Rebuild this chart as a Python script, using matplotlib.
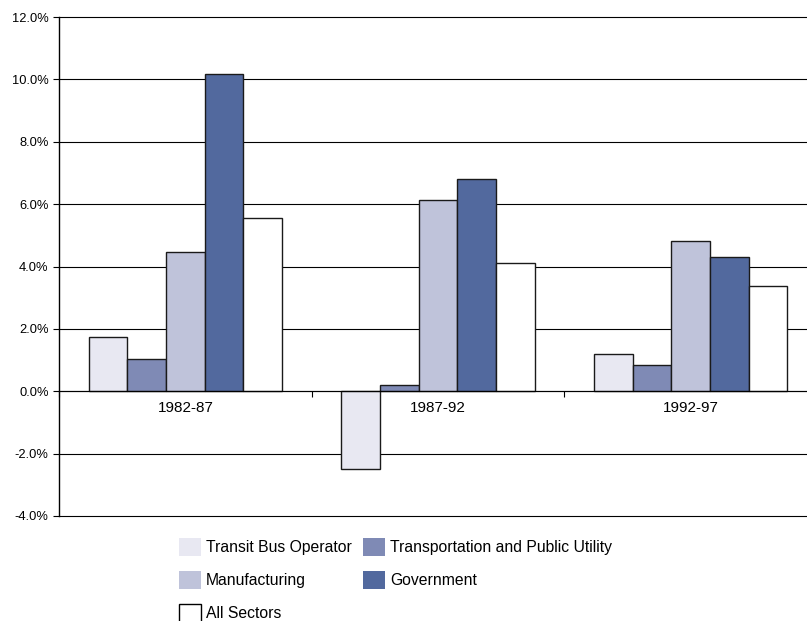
import matplotlib.pyplot as plt
import matplotlib.patches as mpatches
import numpy as np

plt.rcParams['font.family'] = ['Liberation Sans', 'DejaVu Sans']

# --- data (annual growth, %) ---
periods = ['1982-87', '1987-92', '1992-97']
series = ['Transit Bus Operator', 'Transportation and Public Utility',
          'Manufacturing', 'Government', 'All Sectors']
transit_bus = [1.75, -2.48, 1.21]
transport_util = [1.05, 0.20, 0.85]
manufacturing = [4.47, 6.14, 4.82]
government = [10.18, 6.82, 4.30]
all_sectors = [5.57, 4.10, 3.36]
colors = ['#E8E8F2', '#7F8AB5', '#BFC3DA', '#52699E', '#FFFFFF']

values = [transit_bus, transport_util, manufacturing, government, all_sectors]

fig = plt.figure(figsize=(8.07, 6.21), dpi=100)
ax = fig.add_axes([59 / 807, 1 - 516 / 621, 1 - 59 / 807, 499 / 621])

x = np.arange(len(periods))
w = 0.153
for i, (vals, c) in enumerate(zip(values, colors)):
    ax.bar(x + (i - 2) * w, vals, w, color=c, edgecolor='#1a1a1a',
           linewidth=1.0, zorder=3)

yt = np.arange(-4, 12.1, 2)
ax.set_ylim(-4, 12)
ax.set_yticks(yt)
ax.set_yticklabels([f'{v:.1f}%' for v in yt], fontsize=9.3)
ax.tick_params(axis='y', length=4, width=0.8)
# horizontal rules at every tick, including the -4% floor
for v in yt:
    ax.axhline(v, color='black', linewidth=0.8, zorder=0, clip_on=False)

ax.set_xlim(-0.5, 2.46)
ax.spines['bottom'].set_position(('data', 0))
ax.spines['bottom'].set_linewidth(0.8)
ax.spines['bottom'].set_zorder(4)
ax.spines['left'].set_linewidth(1.0)
ax.spines['top'].set_visible(False)
ax.spines['right'].set_visible(False)
ax.set_xticks([-0.5, 0.5, 1.5])
ax.set_xticklabels([])
ax.tick_params(axis='x', which='major', length=4, width=0.8, direction='out')
ax.set_xticks(x, minor=True)
ax.set_xticklabels(periods, minor=True, fontsize=11)
ax.tick_params(axis='x', which='minor', length=0, pad=7)

handles = []
for name, c in zip(series, colors):
    if c == '#FFFFFF':
        handles.append(mpatches.Patch(facecolor=c, edgecolor='black', linewidth=1.0, label=name))
    else:
        handles.append(mpatches.Patch(facecolor=c, edgecolor='none', label=name))
order = [0, 2, 4, 1, 3]
fig.legend([handles[i] for i in order], [series[i] for i in order],
           ncol=2, loc='upper left', bbox_to_anchor=(179 / 807, 1 - 538 / 621),
           frameon=False, fontsize=11.3, handlelength=1.4, handleheight=1.4,
           handletextpad=0.3, columnspacing=0.75, labelspacing=0.95,
           borderpad=0, borderaxespad=0)

fig.savefig('out.png', dpi=100)
